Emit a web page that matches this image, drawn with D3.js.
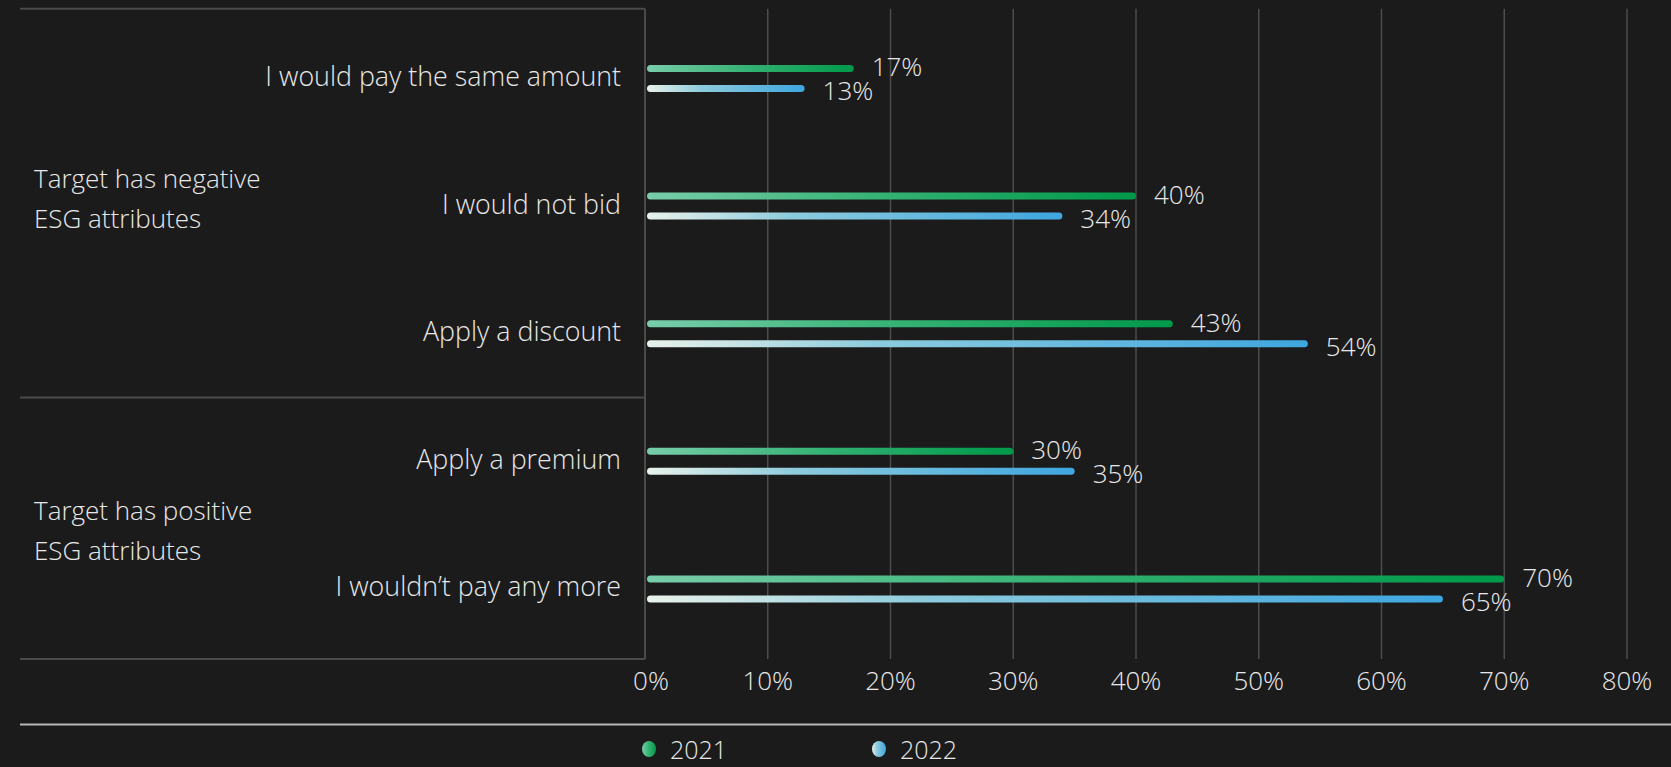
<!DOCTYPE html>
<html>
<head>
<meta charset="utf-8">
<script src="https://cdn.jsdelivr.net/npm/d3@7"></script>
<style>
  html, body { margin: 0; padding: 0; background: #1b1b1b; }
  svg { display: block; }
  text { font-family: "Open Sans", sans-serif; font-weight: 300; fill: #e8e8e8; }
</style>
</head>
<body>
<svg id="chart" width="1671" height="767"></svg>
<script>
// ---- data ----
const categories = ["I would pay the same amount", "I would not bid", "Apply a discount", "Apply a premium", "I wouldn\u2019t pay any more"];
const groupLabels = [["Target has negative", "ESG attributes"], ["Target has positive", "ESG attributes"]];
const groupSizes = [3, 2];
const seriesNames = ["2021", "2022"];
const values2021 = [17, 40, 43, 30, 70];
const values2022 = [13, 34, 54, 35, 65];
const xTicks = [0, 10, 20, 30, 40, 50, 60, 70, 80];

// ---- layout ----
const W = 1671, H = 767;
const boxLeft = 20, boxTop = 8.7, boxBottom = 659;
const groupLabelNudge = [-8, 5];
const svg = d3.select("#chart");
svg.append("rect").attr("width", W).attr("height", H).attr("fill", "#1b1b1b");

const x = d3.scaleLinear().domain([0, 80]).range([645, 1627]);
const y = d3.scaleBand().domain(categories).range([14.6, 652.8]);
const ySeries = d3.scaleBand().domain(seriesNames).range([-20, 20]);

const defs = svg.append("defs");
function grad(id, stops) {
  const g = defs.append("linearGradient").attr("id", id)
    .attr("x1", "0%").attr("x2", "100%").attr("y1", "0%").attr("y2", "0%");
  stops.forEach(s => g.append("stop").attr("offset", s[0]).attr("stop-color", s[1]));
}
grad("g2021", [["0%", "#78cdaa"], ["50%", "#32b172"], ["100%", "#00994a"]]);
grad("g2022", [["0%", "#eaf2ea"], ["35%", "#8ccbdc"], ["100%", "#3ea6df"]]);
const colorIds = { "2021": "g2021", "2022": "g2022" };

// gridlines
svg.append("g").selectAll("line").data(xTicks).join("line")
  .attr("x1", d => x(d)).attr("x2", d => x(d))
  .attr("y1", boxTop).attr("y2", boxBottom)
  .attr("stroke", "#4d4d4d").attr("stroke-width", 1.5);

// box lines
const boxG = svg.append("g").attr("stroke", "#4a4a4a").attr("stroke-width", 2);
boxG.append("line").attr("x1", boxLeft).attr("x2", x(0)).attr("y1", boxTop).attr("y2", boxTop);
boxG.append("line").attr("x1", boxLeft).attr("x2", x(0)).attr("y1", boxBottom).attr("y2", boxBottom);
boxG.append("line").attr("x1", x(0)).attr("x2", x(0)).attr("y1", boxTop).attr("y2", boxBottom);

// groups
let idx = 0;
groupLabels.forEach((lines, gi) => {
  const n = groupSizes[gi];
  const top = y(categories[idx]), bottom = y(categories[idx + n - 1]) + y.bandwidth();
  if (gi < groupLabels.length - 1) {
    boxG.append("line").attr("x1", boxLeft).attr("x2", x(0)).attr("y1", bottom).attr("y2", bottom);
  }
  const mid = (top + bottom) / 2 + groupLabelNudge[gi];
  svg.append("g").selectAll("text").data(lines).join("text")
    .attr("x", 34).attr("y", (d, i) => mid + (i - 0.5) * 40)
    .attr("dominant-baseline", "central")
    .attr("font-size", 26).text(d => d);
  idx += n;
});

// category labels
svg.append("g").selectAll("text").data(categories).join("text")
  .attr("x", 621).attr("y", d => y(d) + y.bandwidth() / 2 - 3)
  .attr("text-anchor", "end").attr("dominant-baseline", "central")
  .attr("font-size", 26.8).text(d => d);

// bars
const series = [
  { name: "2021", values: values2021 },
  { name: "2022", values: values2022 }
];
const barH = 7;
series.forEach(s => {
  const rows = categories.map((c, i) => ({ c, v: s.values[i] }));
  const cy = d => y(d.c) + y.bandwidth() / 2 + ySeries(s.name) + ySeries.bandwidth() / 2;
  svg.append("g").selectAll("rect").data(rows).join("rect")
    .attr("x", x(0) + 2).attr("y", d => cy(d) - barH / 2)
    .attr("width", d => x(d.v) - x(0) - 2).attr("height", barH)
    .attr("rx", barH / 2)
    .attr("fill", `url(#${colorIds[s.name]})`);
  svg.append("g").selectAll("text").data(rows).join("text")
    .attr("x", d => x(d.v) + 18).attr("y", d => cy(d) + (s.name === "2021" ? -2 : 2))
    .attr("dominant-baseline", "central")
    .attr("font-size", 26).text(d => d.v + "%");
});

// x axis tick labels
svg.append("g").selectAll("text").data(xTicks).join("text")
  .attr("x", d => x(d) + (d === 0 ? 6 : 0)).attr("y", 680)
  .attr("text-anchor", "middle").attr("dominant-baseline", "central")
  .attr("font-size", 26).text(d => d + "%");

// legend line
svg.append("line").attr("x1", boxLeft).attr("x2", W).attr("y1", 724.5).attr("y2", 724.5)
  .attr("stroke", "#b8b8b8").attr("stroke-width", 2);

// legend
const legendX = d3.scalePoint().domain(seriesNames).range([649, 879]);
const lg = svg.append("g").selectAll("g").data(seriesNames).join("g")
  .attr("transform", d => `translate(${legendX(d)},749)`);
lg.append("ellipse").attr("rx", 7).attr("ry", 8).attr("fill", d => `url(#${colorIds[d]})`);
lg.append("text").attr("x", 21).attr("dominant-baseline", "central")
  .attr("font-size", 25).text(d => d);
</script>
</body>
</html>
